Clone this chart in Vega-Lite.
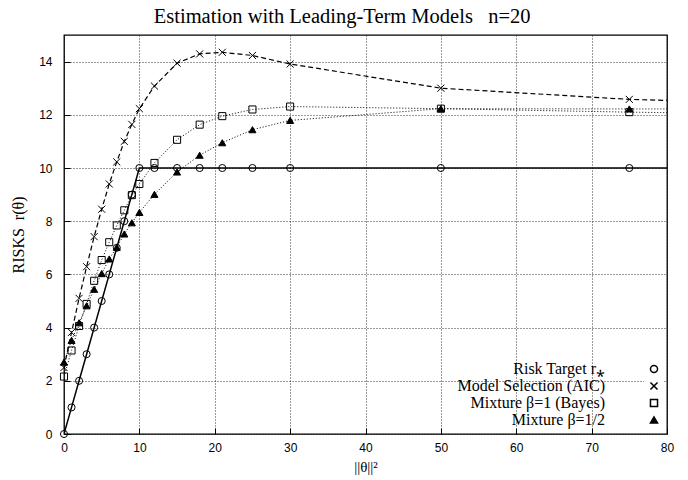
{
  "$schema": "https://vega.github.io/schema/vega-lite/v6.json",
  "width": 603,
  "height": 399,
  "autosize": "none",
  "padding": {"left": 64, "top": 35, "right": 21, "bottom": 46},
  "background": "white",
  "title": {
    "text": "Estimation with Leading-Term Models\u00a0\u00a0\u00a0n=20",
    "font": "Liberation Serif",
    "fontSize": 20.5,
    "fontWeight": "normal",
    "color": "black",
    "anchor": "middle",
    "frame": "bounds",
    "offset": 8
  },
  "config": {
    "view": {"stroke": "black", "strokeWidth": 1.3},
    "axis": {
      "labelFont": "Liberation Sans",
      "labelFontSize": 12,
      "labelColor": "black",
      "titleFont": "Liberation Serif",
      "titleFontWeight": "normal",
      "titleColor": "black",
      "domain": false,
      "tickColor": "black",
      "tickSize": -6,
      "tickWidth": 1,
      "gridColor": "black",
      "gridDash": [1, 2],
      "gridWidth": 0.8,
      "gridOpacity": 1
    },
    "legend": {
      "labelFont": "Liberation Serif",
      "labelFontSize": 16,
      "labelColor": "black"
    }
  },
  "data": {
    "values": [
      {"s": "Risk Target  r⁎", "x": 0, "y": 0},
      {"s": "Risk Target  r⁎", "x": 1, "y": 1},
      {"s": "Risk Target  r⁎", "x": 2, "y": 2},
      {"s": "Risk Target  r⁎", "x": 3, "y": 3},
      {"s": "Risk Target  r⁎", "x": 4, "y": 4},
      {"s": "Risk Target  r⁎", "x": 5, "y": 5},
      {"s": "Risk Target  r⁎", "x": 6, "y": 6},
      {"s": "Risk Target  r⁎", "x": 7, "y": 7},
      {"s": "Risk Target  r⁎", "x": 8, "y": 8},
      {"s": "Risk Target  r⁎", "x": 9, "y": 9},
      {"s": "Risk Target  r⁎", "x": 10, "y": 10},
      {"s": "Risk Target  r⁎", "x": 12, "y": 10},
      {"s": "Risk Target  r⁎", "x": 15, "y": 10},
      {"s": "Risk Target  r⁎", "x": 18, "y": 10},
      {"s": "Risk Target  r⁎", "x": 21, "y": 10},
      {"s": "Risk Target  r⁎", "x": 25, "y": 10},
      {"s": "Risk Target  r⁎", "x": 30, "y": 10},
      {"s": "Risk Target  r⁎", "x": 50, "y": 10},
      {"s": "Risk Target  r⁎", "x": 75, "y": 10},
      {"s": "Risk Target  r⁎", "x": 80, "y": 10},
      {"s": "Model Selection (AIC)", "x": 0, "y": 2.5},
      {"s": "Model Selection (AIC)", "x": 1, "y": 3.82},
      {"s": "Model Selection (AIC)", "x": 2, "y": 5.1},
      {"s": "Model Selection (AIC)", "x": 3, "y": 6.29},
      {"s": "Model Selection (AIC)", "x": 4, "y": 7.42},
      {"s": "Model Selection (AIC)", "x": 5, "y": 8.45},
      {"s": "Model Selection (AIC)", "x": 6, "y": 9.4},
      {"s": "Model Selection (AIC)", "x": 7, "y": 10.23},
      {"s": "Model Selection (AIC)", "x": 8, "y": 11.0},
      {"s": "Model Selection (AIC)", "x": 9, "y": 11.64},
      {"s": "Model Selection (AIC)", "x": 10, "y": 12.23},
      {"s": "Model Selection (AIC)", "x": 12, "y": 13.08},
      {"s": "Model Selection (AIC)", "x": 15, "y": 13.94},
      {"s": "Model Selection (AIC)", "x": 18, "y": 14.29},
      {"s": "Model Selection (AIC)", "x": 21, "y": 14.35},
      {"s": "Model Selection (AIC)", "x": 25, "y": 14.23},
      {"s": "Model Selection (AIC)", "x": 30, "y": 13.91},
      {"s": "Model Selection (AIC)", "x": 50, "y": 13.0},
      {"s": "Model Selection (AIC)", "x": 75, "y": 12.58},
      {"s": "Model Selection (AIC)", "x": 80, "y": 12.54},
      {"s": "Mixture β=1 (Bayes)", "x": 0, "y": 2.16},
      {"s": "Mixture β=1 (Bayes)", "x": 1, "y": 3.14},
      {"s": "Mixture β=1 (Bayes)", "x": 2, "y": 4.06},
      {"s": "Mixture β=1 (Bayes)", "x": 3, "y": 4.89},
      {"s": "Mixture β=1 (Bayes)", "x": 4, "y": 5.76},
      {"s": "Mixture β=1 (Bayes)", "x": 5, "y": 6.54},
      {"s": "Mixture β=1 (Bayes)", "x": 6, "y": 7.21},
      {"s": "Mixture β=1 (Bayes)", "x": 7, "y": 7.84},
      {"s": "Mixture β=1 (Bayes)", "x": 8, "y": 8.41},
      {"s": "Mixture β=1 (Bayes)", "x": 9, "y": 8.98},
      {"s": "Mixture β=1 (Bayes)", "x": 10, "y": 9.4},
      {"s": "Mixture β=1 (Bayes)", "x": 12, "y": 10.19},
      {"s": "Mixture β=1 (Bayes)", "x": 15, "y": 11.06},
      {"s": "Mixture β=1 (Bayes)", "x": 18, "y": 11.63},
      {"s": "Mixture β=1 (Bayes)", "x": 21, "y": 11.95},
      {"s": "Mixture β=1 (Bayes)", "x": 25, "y": 12.2},
      {"s": "Mixture β=1 (Bayes)", "x": 30, "y": 12.31},
      {"s": "Mixture β=1 (Bayes)", "x": 50, "y": 12.23},
      {"s": "Mixture β=1 (Bayes)", "x": 75, "y": 12.1},
      {"s": "Mixture β=1 (Bayes)", "x": 80, "y": 12.08},
      {"s": "Mixture β=1/2", "x": 0, "y": 2.7},
      {"s": "Mixture β=1/2", "x": 1, "y": 3.52},
      {"s": "Mixture β=1/2", "x": 2, "y": 4.18},
      {"s": "Mixture β=1/2", "x": 3, "y": 4.82},
      {"s": "Mixture β=1/2", "x": 4, "y": 5.44},
      {"s": "Mixture β=1/2", "x": 5, "y": 6.03},
      {"s": "Mixture β=1/2", "x": 6, "y": 6.58},
      {"s": "Mixture β=1/2", "x": 7, "y": 7.02},
      {"s": "Mixture β=1/2", "x": 8, "y": 7.52},
      {"s": "Mixture β=1/2", "x": 9, "y": 7.94},
      {"s": "Mixture β=1/2", "x": 10, "y": 8.33},
      {"s": "Mixture β=1/2", "x": 12, "y": 9.01},
      {"s": "Mixture β=1/2", "x": 15, "y": 9.85},
      {"s": "Mixture β=1/2", "x": 18, "y": 10.48},
      {"s": "Mixture β=1/2", "x": 21, "y": 10.95},
      {"s": "Mixture β=1/2", "x": 25, "y": 11.44},
      {"s": "Mixture β=1/2", "x": 30, "y": 11.79},
      {"s": "Mixture β=1/2", "x": 50, "y": 12.23},
      {"s": "Mixture β=1/2", "x": 75, "y": 12.22},
      {"s": "Mixture β=1/2", "x": 80, "y": 12.22}
    ]
  },
  "encoding": {
    "x": {
      "field": "x", "type": "quantitative",
      "scale": {"domain": [0, 80], "nice": false, "zero": false},
      "axis": {"values": [0, 10, 20, 30, 40, 50, 60, 70, 80], "grid": true, "title": "||θ||²", "titleFontSize": 15, "titlePadding": 6, "labelPadding": 14, "labelFlush": false}
    },
    "y": {
      "field": "y", "type": "quantitative",
      "scale": {"domain": [0, 15], "nice": false},
      "axis": {"values": [0, 2, 4, 6, 8, 10, 12, 14], "grid": true, "title": "RISKS\u00a0\u00a0r(θ)", "titleFontSize": 16, "titlePadding": 12, "labelPadding": 18}
    }
  },
  "layer": [
    {
      "transform": [{"filter": "datum.s === 'Risk Target  r⁎'"}],
      "mark": {"type": "line", "color": "black", "strokeWidth": 1.5, "clip": true}
    },
    {
      "transform": [{"filter": "datum.s === 'Model Selection (AIC)'"}],
      "mark": {"type": "line", "color": "black", "strokeWidth": 1.2, "strokeDash": [5, 3], "clip": true}
    },
    {
      "transform": [{"filter": "datum.s === 'Mixture β=1 (Bayes)'"}],
      "mark": {"type": "line", "color": "black", "strokeWidth": 1, "strokeDash": [1, 2], "clip": true}
    },
    {
      "transform": [{"filter": "datum.s === 'Mixture β=1/2'"}],
      "mark": {"type": "line", "color": "black", "strokeWidth": 1, "strokeDash": [1, 2], "clip": true}
    },
    {
      "transform": [{"filter": "datum.x < 80"}],
      "mark": {"type": "point", "stroke": "black", "strokeWidth": 1, "size": 50, "opacity": 1},
      "encoding": {
        "fill": {
          "field": "s", "type": "nominal",
          "scale": {"domain": ["Risk Target  r⁎", "Model Selection (AIC)", "Mixture β=1 (Bayes)", "Mixture β=1/2"], "range": ["transparent", "transparent", "transparent", "black"]}
        },
        "shape": {
          "field": "s", "type": "nominal",
          "scale": {"domain": ["Risk Target  r⁎", "Model Selection (AIC)", "Mixture β=1 (Bayes)", "Mixture β=1/2"], "range": ["circle", "M-1,-1L1,1M-1,1L1,-1", "square", "triangle-up"]},
          "legend": {
            "title": null,
            "orient": "bottom-right",
            "offset": 4,
            "padding": 2,
            "fillColor": "white",
            "symbolSize": 50,
            "rowPadding": 1,
            "labelAlign": "right",
            "labelOffset": -57,
            "encode": {
              "symbols": {
                "fill": {"value": {"expr": "datum.index === 3 ? 'black' : 'transparent'"}},
                "stroke": {"value": "black"},
                "strokeWidth": {"value": 1},
                "opacity": {"value": 1}
              }
            }
          }
        }
      }
    }
  ]
}
